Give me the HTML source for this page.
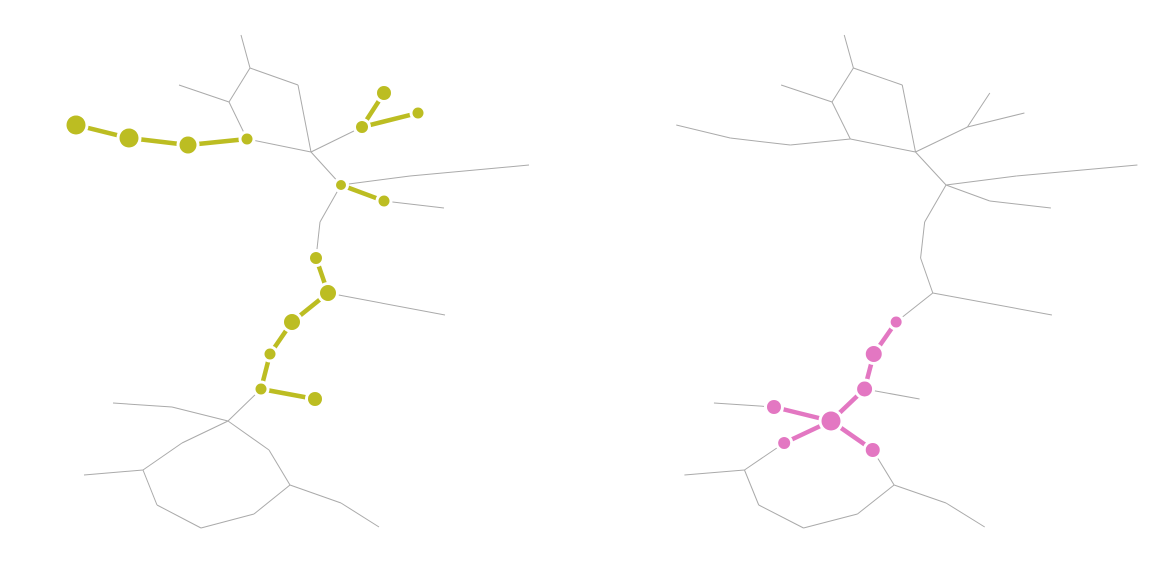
<!DOCTYPE html>
<html><head><meta charset="utf-8"><style>
html,body{margin:0;padding:0;background:#fff;}
svg{display:block;font-family:"Liberation Sans",sans-serif;}
</style></head><body>
<svg id="chart" width="1171" height="578" viewBox="0 0 1171 578">
<g id="left"></g>
<g id="right"></g>
</svg>
<script>
const nodeIds = ["A","B","C","D","E","F","G","H","I","J","K","L","M","N","O","O2","P","Q","R","S","T","U","V","W","X","Y","Z","a","b","c","d","e","f","g","h","i","j","k","l"];
const nodeX = [241,250,229,298,179,247,311,188,129,76,362,384,418,341,410,529,384,444,320,316,328,445,292,270,261,315,228,172,113,182,143,84,157,201,254,290,269,341,379];
const nodeY = [35,68,102,85,85,139,152,145,138,125,127,93,113,185,176,165,201,208,222,258,293,315,322,354,389,399,421,407,403,443,470,475,505,528,514,485,450,503,527];
const edges = [["A","B"],["B","C"],["B","D"],["C","E"],["C","F"],["D","G"],["F","G"],["F","H"],["H","I"],["I","J"],["G","K"],["K","L"],["K","M"],["G","N"],["N","O"],["O","O2"],["N","P"],["P","Q"],["N","R"],["R","S"],["S","T"],["T","U"],["T","V"],["V","W"],["W","X"],["X","Y"],["X","Z"],["Z","a"],["a","b"],["Z","c"],["c","d"],["d","e"],["d","f"],["f","g"],["g","h"],["h","i"],["Z","j"],["j","i"],["i","k"],["k","l"]];
const leftEdges = [["J","I"],["I","H"],["H","F"],["K","L"],["K","M"],["N","P"],["S","T"],["T","V"],["V","W"],["W","X"],["X","Y"]];
const leftNodes = ["J","I","H","F","K","L","M","N","P","S","T","V","W","X","Y"];
const leftRadii = [9.5,9.5,8.5,5.5,6,7,5.5,5,5.5,6,8,8,5.5,5.5,7];
const rightEdges = [["V","W"],["W","X"],["X","Z"],["Z","a"],["Z","c"],["Z","j"]];
const rightNodes = ["V","W","X","Z","a","c","j"];
const rightRadii = [5.5,8,7.5,9.5,7,6,7];
const NS="http://www.w3.org/2000/svg";
function px(id,p){return p.cx+(nodeX[nodeIds.indexOf(id)]-228)*p.s;}
function py(id){return nodeY[nodeIds.indexOf(id)];}
function mk(t,a,p){const e=document.createElementNS(NS,t);for(const k in a)e.setAttribute(k,a[k]);p.appendChild(e);return e;}
function draw(g,p,hEdges,hNodes,hRadii,color,label){
  edges.forEach(e=>{
    const l=mk("line",{x1:px(e[0],p),y1:py(e[0]),x2:px(e[1],p),y2:py(e[1]),stroke:"#aaa","stroke-width":1},g);
    
    
  });
  hEdges.forEach(e=>{
    const l=mk("line",{x1:px(e[0],p),y1:py(e[0]),x2:px(e[1],p),y2:py(e[1]),stroke:color,"stroke-width":4.5},g);
    
    
  });
  hNodes.forEach((n,i)=>{
    const r=hRadii[i];
    mk("circle",{cx:px(n,p),cy:py(n),r:r+3,fill:"#fff"},g);
    const c=mk("circle",{cx:px(n,p),cy:py(n),r:r,fill:color},g);
    
    
  });
}
draw(document.getElementById("left"),{cx:228,s:1},leftEdges,leftNodes,leftRadii,"#bcbd22","yellow");
draw(document.getElementById("right"),{cx:831,s:1.018},rightEdges,rightNodes,rightRadii,"#e377c2","pink");
</script>
</body></html>
